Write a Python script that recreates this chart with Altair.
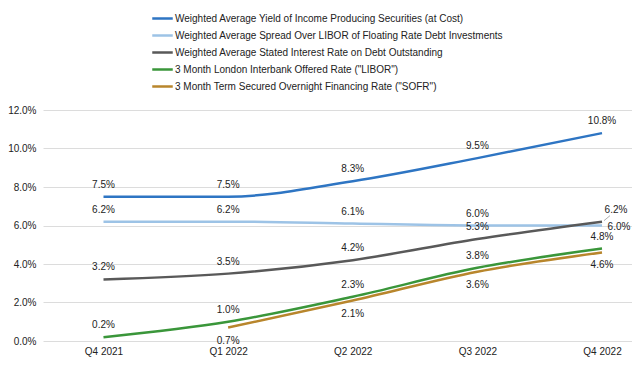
import altair as alt
import pandas as pd

quarters = ["Q4 2021", "Q1 2022", "Q2 2022", "Q3 2022", "Q4 2022"]
series_names = [
    "Weighted Average Yield of Income Producing Securities (at Cost)",
    "Weighted Average Spread Over LIBOR of Floating Rate Debt Investments",
    "Weighted Average Stated Interest Rate on Debt Outstanding",
    "3 Month London Interbank Offered Rate (\"LIBOR\")",
    "3 Month Term Secured Overnight Financing Rate (\"SOFR\")",
]
yield_vals = [7.5, 7.5, 8.3, 9.5, 10.8]
spread_vals = [6.2, 6.2, 6.1, 6.0, 6.0]
stated_vals = [3.2, 3.5, 4.2, 5.3, 6.2]
libor_vals = [0.2, 1.0, 2.3, 3.8, 4.8]
sofr_vals = [None, 0.7, 2.1, 3.6, 4.6]
colors = ["#2E75C3", "#9DC3E6", "#595959", "#3A963A", "#B8862C"]

all_vals = [yield_vals, spread_vals, stated_vals, libor_vals, sofr_vals]
rows = []
for s, vals in enumerate(all_vals):
    for i, v in enumerate(vals):
        if v is not None:
            rows.append({"series": series_names[s], "sidx": s, "idx": i, "pct": v})
df = pd.DataFrame(rows)

label_expr = "[" + ",".join("'" + q + "'" for q in quarters) + "][datum.value]"

font = "Liberation Sans"
x = alt.X("idx:Q", scale=alt.Scale(domain=[-0.4854, 4.2406], nice=False, zero=False),
          axis=alt.Axis(values=list(range(len(quarters))), labelExpr=label_expr, grid=False,
                        domain=False, ticks=False, labelPadding=5, title=None,
                        labelFontSize=10, labelFont=font, labelColor="#222222"))
y = alt.Y("val:Q", scale=alt.Scale(domain=[0, 0.12], nice=False),
          axis=alt.Axis(values=[0, 0.02, 0.04, 0.06, 0.08, 0.10, 0.12], format=".1%",
                        domain=False, ticks=False, labelPadding=7, title=None,
                        gridColor="#dcdcdc", gridWidth=1,
                        labelFontSize=10, labelFont=font, labelColor="#222222"))
color = alt.Color("series:N", scale=alt.Scale(domain=series_names, range=colors),
                  legend=alt.Legend(title=None, orient="none", legendX=108, legendY=-103,
                                    symbolType="stroke", symbolStrokeWidth=2.5, symbolSize=420,
                                    labelFontSize=10, labelFont=font, labelColor="#222222",
                                    rowPadding=-3.5, labelOffset=1, labelLimit=500))

base = alt.Chart(df).transform_calculate(val="datum.pct / 100")

lines = base.mark_line(strokeWidth=2.5, interpolate="monotone").encode(
    x=x, y=y, color=color, detail="series:N")

txt = dict(fontSize=10, font=font, color="#222222", baseline="middle")
above = base.transform_filter(
    "datum.sidx <= 3 && !(datum.idx == 4 && (datum.sidx == 1 || datum.sidx == 2))"
).mark_text(dy=-12, **txt).encode(x=x, y=y, text=alt.Text("val:Q", format=".1%"))
below = base.transform_filter("datum.sidx == 4").mark_text(dy=13, **txt).encode(
    x=x, y=y, text=alt.Text("val:Q", format=".1%"))
spread_last = base.transform_filter("datum.sidx == 1 && datum.idx == 4").mark_text(
    dx=17, dy=1, **txt).encode(x=x, y=y, text=alt.Text("val:Q", format=".1%"))
stated_last = base.transform_filter("datum.sidx == 2 && datum.idx == 4").mark_text(
    dx=14, dy=-12, **txt).encode(x=x, y=y, text=alt.Text("val:Q", format=".1%"))
leader = base.transform_filter("datum.sidx == 2 && datum.idx == 4").mark_rule(
    color="#999999", strokeWidth=0.8, xOffset=2, x2Offset=8, yOffset=-1, y2Offset=-6).encode(
    x=x, y=y, x2="idx:Q", y2="val:Q")

chart = alt.layer(lines, leader, above, below, spread_last, stated_last).properties(
    width=589, height=231, autosize="none",
    padding={"left": 35, "top": 102, "right": 0, "bottom": 17},
).configure_view(stroke=None)

chart.save("out.html", embed_options={"renderer": "svg", "actions": False})
